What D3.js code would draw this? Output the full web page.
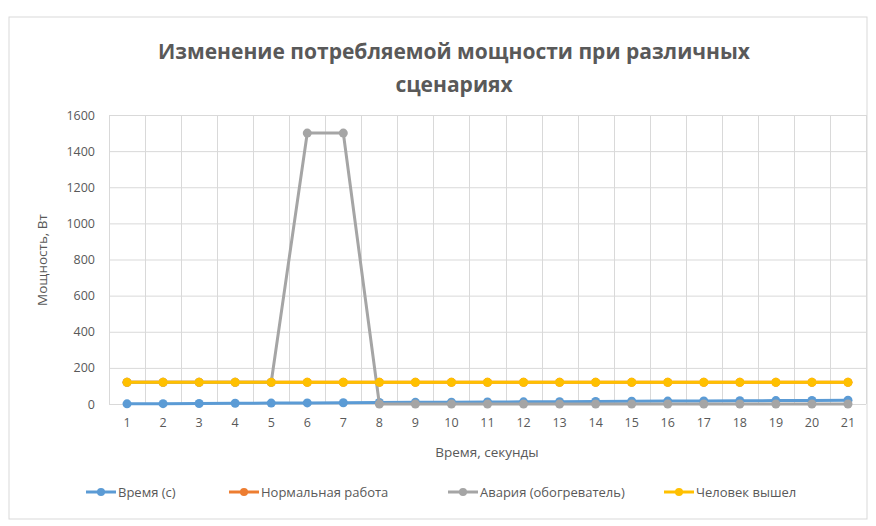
<!DOCTYPE html>
<html><head><meta charset="utf-8">
<script src="https://cdn.jsdelivr.net/npm/d3@7"></script>
<style>body{margin:0;background:#fff}svg{display:block}text{font-family:"Open Sans",sans-serif}</style>
</head><body>
<svg id="c" width="876" height="526"></svg>
<script>
const categories = [1,2,3,4,5,6,7,8,9,10,11,12,13,14,15,16,17,18,19,20,21];
const timeSeries = [1,2,3,4,5,6,7,8,9,10,11,12,13,14,15,16,17,18,19,20,21];
const normalWork = [120,120,120,120,120,120,120,120,120,120,120,120,120,120,120,120,120,120,120,120,120];
const accident = [120,120,120,120,120,1500,1500,0,0,0,0,0,0,0,0,0,0,0,0,0,0];
const personLeft = [120,120,120,120,120,120,120,120,120,120,120,120,120,120,120,120,120,120,120,120,120];
const yTicks = [0,200,400,600,800,1000,1200,1400,1600];
const seriesNames = ["Время (с)","Нормальная работа","Авария (обогреватель)","Человек вышел"];
const colors = ["#5b9bd5","#ed7d31","#a5a5a5","#ffc000"];
const allSeries = [timeSeries, normalWork, accident, personLeft];

const svg = d3.select("#c");
const M = {l:109, r:866, t:115, b:404};

svg.append("rect").attr("x",9).attr("y",17).attr("width",858).attr("height",502)
  .attr("fill","#fff").attr("stroke","#d9d9d9").attr("stroke-width",1);

const x = d3.scaleBand().domain(categories).range([M.l, M.r]);
const y = d3.scaleLinear().domain([0,1600]).range([M.b, M.t]);

// gridlines
const g = svg.append("g");
g.selectAll("line.h").data(yTicks).join("line")
  .attr("x1",M.l).attr("x2",M.r).attr("y1",d=>y(d)+0.5).attr("y2",d=>y(d)+0.5)
  .attr("stroke","#d9d9d9");
const bounds = categories.map(c=>x(c)).concat([M.r]);
g.selectAll("line.v").data(bounds).join("line")
  .attr("x1",d=>Math.round(d)+0.5).attr("x2",d=>Math.round(d)+0.5).attr("y1",M.t).attr("y2",M.b)
  .attr("stroke","#d9d9d9");

// axes
const ya = svg.append("g").attr("transform",`translate(${M.l-10},0)`)
  .call(d3.axisLeft(y).tickValues(yTicks).tickFormat(d3.format("d")).tickSize(0).tickPadding(4));
ya.select(".domain").remove();
ya.selectAll("text").attr("fill","#595959").style("font-size","12.5px");

const xa = svg.append("g").attr("transform",`translate(0,${M.b+6})`)
  .call(d3.axisBottom(x).tickSize(0).tickPadding(8));
xa.select(".domain").remove();
xa.selectAll("text").attr("fill","#595959").style("font-size","12.5px");

// titles
const title = svg.append("text").attr("text-anchor","middle").attr("fill","#595959")
  .style("font-size","21px").style("font-weight","bold");
title.append("tspan").attr("x",454).attr("y",59).text("Изменение потребляемой мощности при различных");
title.append("tspan").attr("x",454).attr("y",92).text("сценариях");

svg.append("text").attr("x",487).attr("y",457).attr("text-anchor","middle").attr("fill","#595959")
  .style("font-size","13.5px").text("Время, секунды");
svg.append("text").attr("transform","translate(47,260) rotate(-90)").attr("text-anchor","middle")
  .attr("fill","#595959").style("font-size","13.5px").text("Мощность, Вт");

// lines
const line = d3.line().x((d,i)=>x(categories[i])+x.bandwidth()/2).y(d=>y(d));
allSeries.forEach((s,k)=>{
  const gg = svg.append("g");
  gg.append("path").datum(s).attr("d",line).attr("fill","none").attr("stroke",colors[k])
    .attr("stroke-width",3).attr("stroke-linejoin","round");
  gg.selectAll("circle").data(s).join("circle")
    .attr("cx",(d,i)=>x(categories[i])+x.bandwidth()/2).attr("cy",d=>y(d)).attr("r",4.5)
    .attr("fill",colors[k]);
});

// legend
const legX = [86, 229, 448, 664];
const lg = svg.append("g").attr("transform","translate(0,492)");
seriesNames.forEach((n,k)=>{
  const it = lg.append("g").attr("transform",`translate(${legX[k]},0)`);
  it.append("line").attr("x1",0).attr("x2",30).attr("stroke",colors[k]).attr("stroke-width",3);
  it.append("circle").attr("cx",15).attr("r",4).attr("fill",colors[k]);
  it.append("text").attr("x",32).attr("y",4.5).attr("fill","#595959").style("font-size","13px").text(n);
});
</script>
</body></html>
